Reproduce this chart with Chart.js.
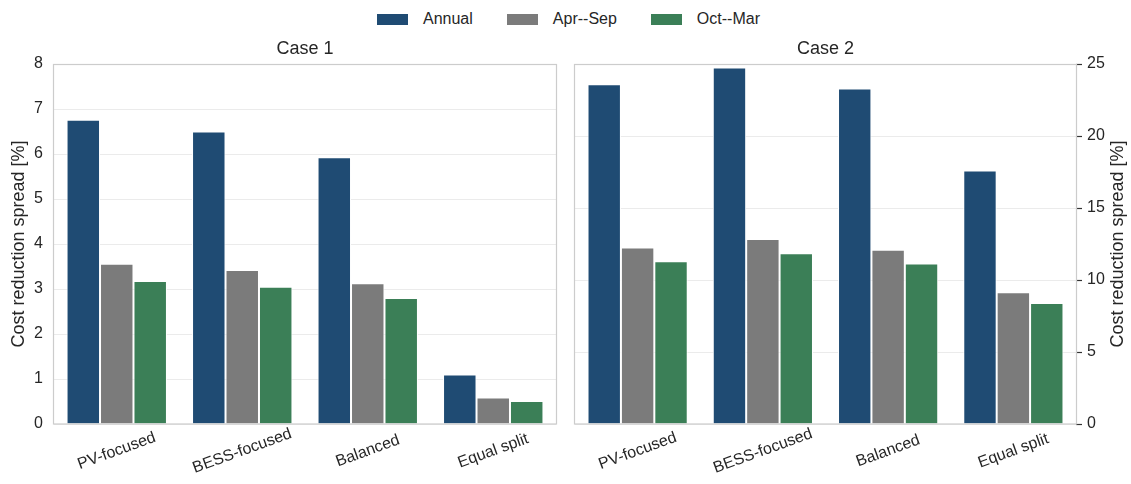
<!DOCTYPE html>
<html>
<head>
<meta charset="utf-8">
<title>Cost reduction spread</title>
<script src="https://cdn.jsdelivr.net/npm/chart.js@4.4.0/dist/chart.umd.min.js"></script>
<style>
  html, body { margin: 0; padding: 0; background: #fff; }
  body { width: 1131px; height: 484px; position: relative; overflow: hidden;
         font-family: 'Liberation Sans', Arial, sans-serif; color: #262626; }
  #legend { position: absolute; top: 9px; left: 377px; display: flex; align-items: center;
            font-size: 16px; line-height: 20px; }
  #legend .item { display: flex; align-items: center; margin-right: 34px; }
  #legend .box { width: 31px; height: 11px; margin-right: 15px; }
  #left { position: absolute; left: 0; top: 0; }
  #right { position: absolute; left: 565px; top: 0; }
</style>
</head>
<body>
<div id="legend"></div>
<canvas id="left" width="565" height="484"></canvas>
<canvas id="right" width="566" height="484"></canvas>
<script>
const categories = ['PV-focused', 'BESS-focused', 'Balanced', 'Equal split'];
const seriesNames = ['Annual', 'Apr--Sep', 'Oct--Mar'];
const seriesColors = ['#1f4b73', '#7b7b7b', '#3b7f57'];

// Case 1 spread per strategy [%]
const case1Annual = [6.76, 6.50, 5.93, 1.10];
const case1AprSep = [3.56, 3.42, 3.13, 0.59];
const case1OctMar = [3.18, 3.05, 2.80, 0.51];

// Case 2 spread per strategy [%]
const case2Annual = [23.6, 24.75, 23.3, 17.6];
const case2AprSep = [12.25, 12.85, 12.1, 9.15];
const case2OctMar = [11.3, 11.85, 11.15, 8.4];

const case1Axis = { max: 8, step: 1 };
const case2Axis = { max: 25, step: 5 };

const yTitle = 'Cost reduction spread [%]';
const fontFamily = "'Liberation Sans', Arial, sans-serif";
const textColor = '#262626';

Chart.defaults.font.family = fontFamily;
Chart.defaults.color = textColor;

// legend shared by both panels
const legendEl = document.getElementById('legend');
seriesNames.forEach((name, i) => {
  const item = document.createElement('div');
  item.className = 'item';
  item.innerHTML = `<span class="box" style="background:${seriesColors[i]}"></span><span>${name}</span>`;
  legendEl.appendChild(item);
});

// frame, rotated category labels and rotated y title
const panelDecor = {
  id: 'panelDecor',
  afterDatasetsDraw(chart) {
    const { ctx, chartArea: a } = chart;
    ctx.save();
    ctx.strokeStyle = '#cccccc';
    ctx.lineWidth = 1.2;
    ctx.strokeRect(Math.round(a.left) - 0.5, Math.round(a.top) + 0.5,
      Math.round(a.right - a.left) + 1, Math.round(a.bottom - a.top) - 0.5);
    ctx.restore();
  },
  afterDraw(chart, args, opts) {
    const { ctx, chartArea: a, scales } = chart;
    ctx.save();
    ctx.fillStyle = textColor;
    ctx.textAlign = 'center';
    ctx.textBaseline = 'middle';
    ctx.font = '16px ' + fontFamily;
    chart.data.labels.forEach((lab, i) => {
      const x = scales.x.getPixelForValue(i);
      ctx.save();
      ctx.translate(x, a.bottom + 27);
      ctx.rotate(-20 * Math.PI / 180);
      ctx.fillText(lab, 0, 0);
      ctx.restore();
    });
    ctx.font = '18px ' + fontFamily;
    ctx.translate(opts.titleX, (a.top + a.bottom) / 2);
    ctx.rotate(-Math.PI / 2);
    ctx.fillText(yTitle, 0, 0);
    ctx.restore();
  }
};

function makeDatasets(annual, aprSep, octMar) {
  return [annual, aprSep, octMar].map((values, i) => ({
    label: seriesNames[i],
    data: values,
    backgroundColor: seriesColors[i],
    borderColor: '#ffffff',
    borderWidth: 1,
    borderSkipped: 'bottom',
    categoryPercentage: 0.8,
    barPercentage: 1.0
  }));
}

function panel(canvasId, title, datasets, axis, side) {
  const isRight = side === 'right';
  return new Chart(document.getElementById(canvasId), {
    type: 'bar',
    data: { labels: categories, datasets: datasets },
    options: {
      responsive: false,
      animation: false,
      layout: { padding: { left: isRight ? 10 : 0, right: isRight ? 0 : 9, top: 0, bottom: 0 } },
      plugins: {
        legend: { display: false },
        tooltip: { enabled: false },
        title: {
          display: true,
          text: title,
          fullSize: false,
          color: textColor,
          font: { size: 18, weight: 'normal' },
          padding: { top: 38, bottom: 4.4 }
        },
        panelDecor: { titleX: isRight ? 553 : 19 }
      },
      scales: {
        x: {
          grid: { display: false },
          border: { display: false },
          ticks: { display: false },
          afterFit(scale) { scale.height = 60; }
        },
        y: {
          position: side,
          min: 0,
          max: axis.max,
          grid: {
            color: '#ebebeb',
            lineWidth: 1,
            drawTicks: isRight,
            tickLength: 6,
            tickColor: '#333333',
            tickWidth: 1.2
          },
          border: { display: false },
          ticks: {
            stepSize: axis.step,
            padding: isRight ? 5 : 11,
            color: textColor,
            font: { size: 16 }
          },
          afterFit(scale) { scale.width = isRight ? 55 : 54; }
        }
      }
    },
    plugins: [panelDecor]
  });
}

panel('left', 'Case 1', makeDatasets(case1Annual, case1AprSep, case1OctMar), case1Axis, 'left');
panel('right', 'Case 2', makeDatasets(case2Annual, case2AprSep, case2OctMar), case2Axis, 'right');
</script>
</body>
</html>
